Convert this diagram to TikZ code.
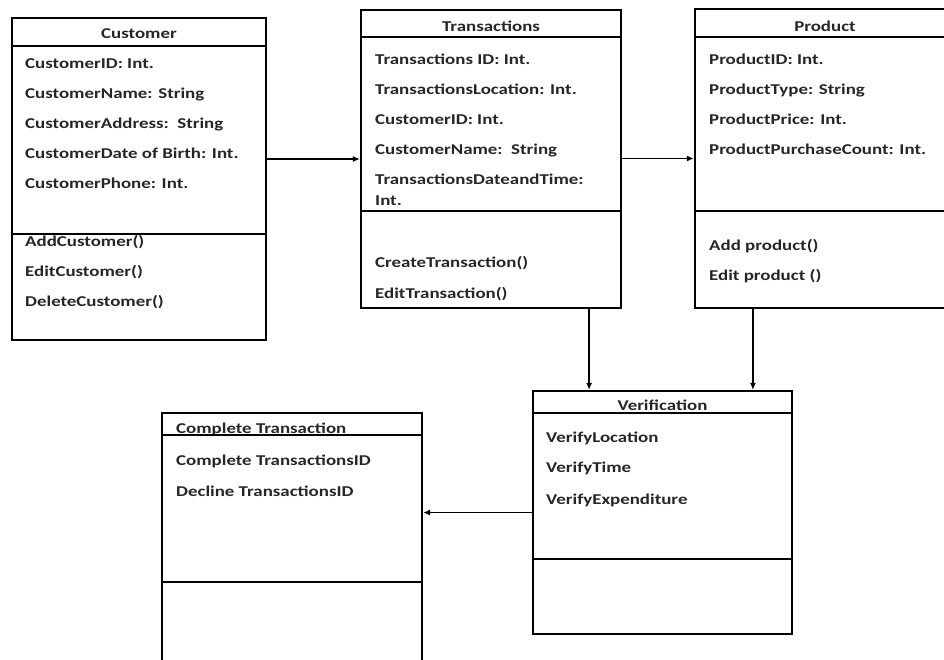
\documentclass[tikz,border=0pt]{standalone}
\usepackage{fontspec}
\setmainfont{Carlito}[FakeStretch=1.26]
\usetikzlibrary{arrows.meta}
\definecolor{inkgray}{HTML}{262626}
\tikzset{
  classbox/.style={draw, line width=2.2pt, inner sep=0pt},
  sepline/.style={line width=2.2pt},
  item/.style={anchor=base west, inner sep=0pt, text=inkgray, font=\fontsize{15}{17}\selectfont\bfseries},
  title/.style={item, anchor=base},
  link/.style={-{Latex[length=7pt,width=6pt]}, line width=1.7pt}
}
\begin{document}
\begin{tikzpicture}[x=1pt, y=-1pt]
  \useasboundingbox (0,0) rectangle (944,659);
  \clip (0,0) rectangle (944,659);

  % Customer
  \node[classbox, minimum width=254pt, minimum height=322pt] (cust) at (139,179) {};
  \draw[sepline] (12,46) -- (266,46);
  \draw[sepline] (12,234) -- (266,234);
  \node[title] (custT) at (139,38) {Customer};
  \foreach \t [count=\i] in {CustomerID: Int., CustomerName: String, CustomerAddress:\ \ String, CustomerDate of Birth: Int., CustomerPhone: Int.}
    \node[item] (custA\i) at (25, 38+30*\i) {\t};
  \foreach \t [count=\i] in {AddCustomer(), EditCustomer(), DeleteCustomer()}
    \node[item] (custM\i) at (25, 216+30*\i) {\t};

  % Transactions
  \node[classbox, minimum width=260pt, minimum height=298pt] (trans) at (491,159) {};
  \draw[sepline] (361,37) -- (621,37);
  \draw[sepline] (361,211) -- (621,211);
  \node[title] (transT) at (491,31) {Transactions};
  \foreach \t [count=\i] in {Transactions ID: Int., TransactionsLocation: Int., CustomerID: Int., CustomerName:\ \ String, TransactionsDateandTime:}
    \node[item] (transA\i) at (375, 34+30*\i) {\t};
  \node[item] (transA6) at (375,205) {Int.};
  \node[item] (transM1) at (375,267) {CreateTransaction()};
  \node[item] (transM2) at (375,298) {EditTransaction()};

  % Product
  \node[classbox, minimum width=260pt, minimum height=299pt] (prod) at (825,158.5) {};
  \draw[sepline] (695,37) -- (955,37);
  \draw[sepline] (695,211) -- (955,211);
  \node[title] (prodT) at (825,31) {Product};
  \foreach \t [count=\i] in {ProductID: Int., ProductType: String, ProductPrice: Int., ProductPurchaseCount: Int.}
    \node[item] (prodA\i) at (709, 34+30*\i) {\t};
  \node[item] (prodM1) at (709,250) {Add product()};
  \node[item] (prodM2) at (709,280) {Edit product ()};

  % Verification
  \node[classbox, minimum width=259pt, minimum height=243pt] (verif) at (662.5,512.5) {};
  \draw[sepline] (533,413) -- (792,413);
  \draw[sepline] (533,559) -- (792,559);
  \node[title] (verifT) at (662.5,410) {Verification};
  \node[item] (verifA1) at (546,442) {VerifyLocation};
  \node[item] (verifA2) at (546,472) {VerifyTime};
  \node[item] (verifA3) at (546,504) {VerifyExpenditure};

  % Complete Transaction
  \node[classbox, minimum width=260pt, minimum height=270pt] (comp) at (292,548) {};
  \node[item] (compT) at (176,433) {Complete Transaction};
  \draw[sepline] (162,435) -- (422,435);
  \draw[sepline] (162,582) -- (422,582);
  \node[item] (compA1) at (176,465) {Complete TransactionsID};
  \node[item] (compA2) at (176,496) {Decline TransactionsID};

  % links
  \draw[link] (cust.east |- trans.west) -- (trans.west);
  \draw[link] (trans.east |- prod.west) -- (prod.west);
  \draw[link] ([xshift=-33pt]trans.south east) -- ([xshift=-33pt]trans.south east |- verif.north);
  \draw[link] ([xshift=59pt]prod.south west) -- ([xshift=59pt]prod.south west |- verif.north);
  \draw[link] (verif.west) -- (comp.east |- verif.west);
\end{tikzpicture}
\end{document}
